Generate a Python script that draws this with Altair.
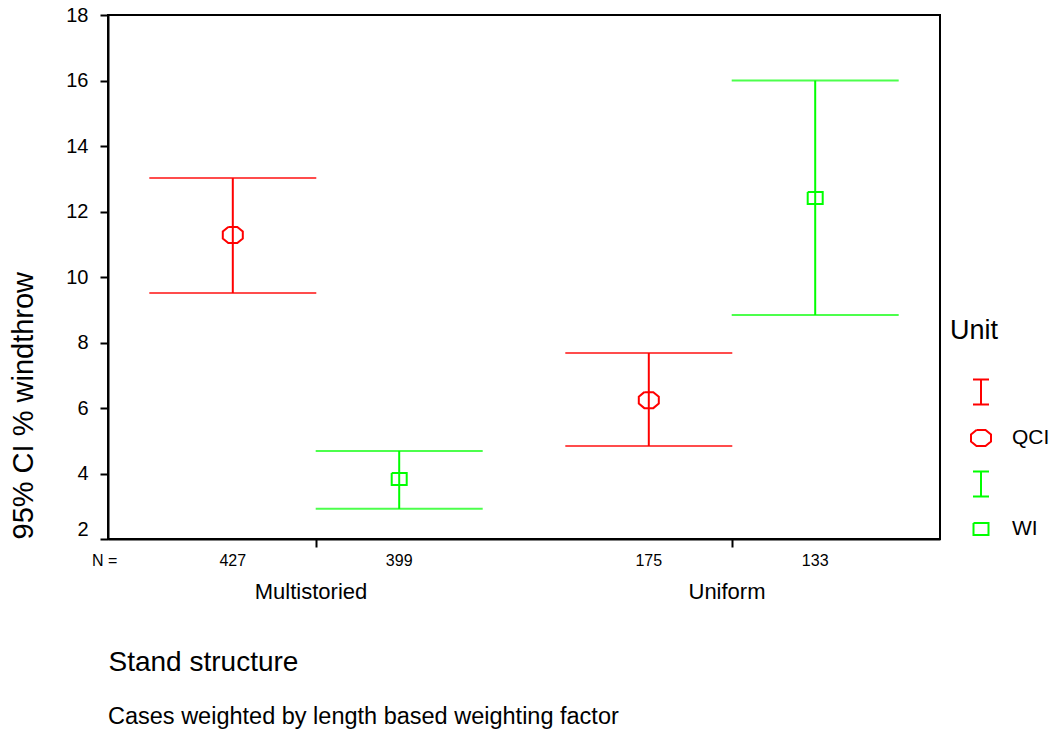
import altair as alt
import pandas as pd

# Error-bar summary: mean and 95% CI of % windthrow by stand structure and unit
structure = ["Multistoried", "Multistoried", "Uniform", "Uniform"]
unit = ["QCI", "WI", "QCI", "WI"]
mean = [11.28, 3.83, 6.24, 12.41]
lower = [9.51, 2.92, 4.84, 8.84]
upper = [13.02, 4.69, 7.68, 16.0]
n_cases = [427, 399, 175, 133]

y_ticks = [2, 4, 6, 8, 10, 12, 14, 16, 18]
footnote = "Cases weighted by length based weighting factor"

df = pd.DataFrame({
    "structure": structure,
    "unit": unit,
    "mean": mean,
    "lower": lower,
    "upper": upper,
    "n": [str(v) for v in n_cases],
})

FONT = "Liberation Sans"
W, H = 832, 524
RED, GREEN = "#ff0000", "#00ff00"

# Marker glyphs: I-beam for the interval bars (legend), flattened octagon and box.
# The outlines are traced forward and back so they enclose no fill area and stay
# hollow wherever they are drawn, legend included.
IBEAM = "M-0.8,-1.25H0.8M0,-1.25V1.25M-0.8,1.25H0.8"
OCTAGON = (
    "M-0.45,-0.8L0.45,-0.8L1,-0.35L1,0.35L0.45,0.8L-0.45,0.8L-1,0.35L-1,-0.35"
    "L-0.45,-0.8L-1,-0.35L-1,0.35L-0.45,0.8L0.45,0.8L1,0.35L1,-0.35L0.45,-0.8"
    "L-0.45,-0.8"
)
BOX = (
    "M-0.75,-0.6L0.75,-0.6L0.75,0.6L-0.75,0.6L-0.75,-0.6"
    "L-0.75,0.6L0.75,0.6L0.75,-0.6L-0.75,-0.6"
)
key_domain = ["QCI-bar", "QCI", "WI-bar", "WI"]
key_colors = [RED, RED, GREEN, GREEN]

x_enc = alt.X(
    "structure:N",
    scale=alt.Scale(paddingInner=0, paddingOuter=0),
    axis=alt.Axis(
        title="Stand structure",
        titleFontSize=28, titleFontWeight="normal", titleFont=FONT,
        titleAlign="left", titleAnchor="start", titleX=0, titleY=123,
        titleBaseline="middle",
        labelFontSize=22, labelFont=FONT, labelAngle=0, labelPadding=34,
        labelColor="black", labelOffset=-5,
        tickSize=8, tickWidth=2, tickColor="black",
        domainColor="black", domainWidth=2,
    ),
)
xo_enc = alt.XOffset(
    "unit:N",
    scale=alt.Scale(domain=["QCI", "WI"], paddingInner=0, paddingOuter=0.25),
)
y_scale = alt.Scale(domain=[2, 18], nice=False, zero=False)
y_enc = alt.Y(
    "upper:Q",
    scale=y_scale,
    axis=alt.Axis(
        title="95% CI % windthrow",
        titleFontSize=29, titleFontWeight="normal", titleFont=FONT,
        titlePadding=27, titleAnchor="start",
        values=y_ticks, labelFontSize=20, labelFont=FONT, labelPadding=12,
        labelColor="black",
        labelBaseline={"expr": "datum.value == 2 ? 'bottom' : 'middle'"},
        tickSize=8, tickWidth=2, tickColor="black",
        domainColor="black", domainWidth=2, grid=False,
    ),
)

# One legend definition shared by the stroke and shape channels so they merge
unit_legend = alt.Legend(
    title="Unit", titleFontSize=27, titleFontWeight="normal", titleFont=FONT,
    titlePadding=36,
    labelFontSize=21, labelFont=FONT, labelColor="black",
    labelExpr="datum.label == 'QCI' || datum.label == 'WI' ? datum.label : ''",
    symbolSize=400, symbolStrokeWidth=2, symbolOffset=20, labelOffset=20,
    rowPadding=17, orient="none", legendX=842, legendY=303,
)

# Bars and caps are coloured through the colour scale, without a legend
color_plain = alt.Color(
    "unit:N", scale=alt.Scale(domain=key_domain, range=key_colors), legend=None
)
# Centre markers are outlined through the stroke scale, which carries the legend
stroke_keyed = alt.Stroke(
    "unit:N", scale=alt.Scale(domain=key_domain, range=key_colors), legend=unit_legend
)
shape_enc = alt.Shape(
    "unit:N",
    scale=alt.Scale(domain=key_domain, range=[IBEAM, OCTAGON, IBEAM, BOX]),
    legend=unit_legend,
)

base = alt.Chart(df)

centre = base.mark_point(size=400, filled=False, strokeWidth=2, opacity=1).encode(
    x=x_enc, xOffset=xo_enc, y=alt.Y("mean:Q", scale=y_scale),
    stroke=stroke_keyed, shape=shape_enc, fill=alt.value("transparent"),
)
whisker = base.mark_rule(strokeWidth=2).encode(
    x=x_enc, xOffset=xo_enc, y=y_enc, y2="lower:Q", color=color_plain
)
cap_hi = base.mark_tick(size=167, thickness=2, orient="horizontal").encode(
    x=x_enc, xOffset=xo_enc, y=alt.Y("upper:Q", scale=y_scale), color=color_plain
)
cap_lo = base.mark_tick(size=167, thickness=2, orient="horizontal").encode(
    x=x_enc, xOffset=xo_enc, y=alt.Y("lower:Q", scale=y_scale), color=color_plain
)
counts = base.mark_text(fontSize=16, font=FONT, color="black").encode(
    x=x_enc, xOffset=xo_enc, y=alt.value(H + 22), text="n:N"
)
n_label = alt.Chart(pd.DataFrame({"t": ["N ="]})).mark_text(
    fontSize=16, font=FONT, color="black", align="left"
).encode(x=alt.value(-16), y=alt.value(H + 22), text="t:N")
note = alt.Chart(pd.DataFrame({"t": [footnote]})).mark_text(
    fontSize=23.5, font=FONT, color="black", align="left"
).encode(x=alt.value(0), y=alt.value(702), text="t:N")

chart = alt.layer(centre, whisker, cap_hi, cap_lo, counts, n_label, note).properties(
    width=W, height=H,
    padding={"left": 108, "top": 15, "right": 116, "bottom": 197},
    autosize=alt.AutoSizeParams(type="none"),
).configure(font=FONT).configure_view(stroke="black", strokeWidth=2)

chart.save("out.html", embed_options={"renderer": "svg", "actions": False})
